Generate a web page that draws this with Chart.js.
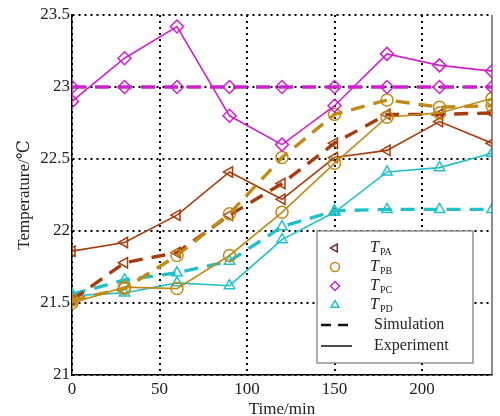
<!DOCTYPE html>
<html>
<head>
<meta charset="utf-8">
<script src="https://cdn.jsdelivr.net/npm/chart.js@4.4.0/dist/chart.umd.min.js"></script>
<style>
  html, body { margin: 0; padding: 0; background: #fff; }
  #wrap { width: 500px; height: 416px; }
</style>
</head>
<body>
<div id="wrap"><canvas id="tempChart" width="500" height="416"></canvas></div>
<script>
'use strict';

// time points (min)
const times = [0, 30, 60, 90, 120, 150, 180, 210, 240];

// simulated / measured temperatures (degC)
const paSim = [21.52, 21.78, 21.85, 22.11, 22.33, 22.61, 22.81, 22.81, 22.82];
const paExp = [21.86, 21.92, 22.11, 22.41, 22.22, 22.51, 22.56, 22.76, 22.61];
const pbSim = [21.52, 21.6, 21.83, 22.12, 22.51, 22.81, 22.91, 22.86, 22.87];
const pbExp = [21.5, 21.61, 21.6, 21.83, 22.13, 22.47, 22.79, 22.82, 22.92];
const pcSim = [23, 23, 23, 23, 23, 23, 23, 23, 23];
const pcExp = [22.9, 23.2, 23.42, 22.8, 22.6, 22.87, 23.23, 23.15, 23.11];
const pdSim = [21.56, 21.66, 21.71, 21.79, 22.03, 22.14, 22.15, 22.15, 22.15];
const pdExp = [21.55, 21.57, 21.64, 21.62, 21.94, 22.13, 22.41, 22.44, 22.54];

const xTicks = [0, 50, 100, 150, 200];
const yTicks = [21, 21.5, 22, 22.5, 23, 23.5];

const legendNames = ['PA', 'PB', 'PC', 'PD'];

const colPA = '#a63c0e';
const colPB = '#c08a18';
const colPC = '#cc22cc';
const colPD = '#22c0c6';
const serif = '"Liberation Serif", "DejaVu Serif", serif';

function pts(arr) {
    return arr.map(function(v, i) { return { x: times[i], y: v }; });
}

function series(label, arr, color, style, rot, dashed) {
    return {
        label: label,
        data: pts(arr),
        borderColor: color,
        backgroundColor: 'rgba(0,0,0,0)',
        borderWidth: dashed ? 3.4 : 1.6,
        borderDash: dashed ? [14, 9] : [],
        pointStyle: style,
        rotation: rot,
        pointRadius: style === 'rectRot' ? 6.5 : 6,
        pointBorderWidth: 1.5,
        pointBorderColor: color,
        pointBackgroundColor: 'rgba(0,0,0,0)',
        tension: 0
    };
}

// right frame line + custom legend
const framePlugin = {
    id: 'frame',
    afterDraw: function(chart) {
        const a = chart.chartArea;
        const ctx = chart.ctx;
        ctx.save();
        ctx.strokeStyle = '#666';
        ctx.lineWidth = 1.5;
        ctx.beginPath();
        ctx.moveTo(a.right, a.top);
        ctx.lineTo(a.right, a.bottom);
        ctx.stroke();

        // legend box
        const bx = 317, by = 231, bw = 156, bh = 132;
        ctx.fillStyle = '#fff';
        ctx.fillRect(bx, by, bw, bh);
        ctx.strokeStyle = '#777';
        ctx.lineWidth = 1.2;
        ctx.strokeRect(bx, by, bw, bh);

        const markerX = 335, textX = 370;
        const rows = [248, 267, 286, 305];
        const cols = ['#7a3530', colPB, colPC, colPD];
        const styles = ['triangle', 'circle', 'rectRot', 'triangle'];
        const rots = [270, 0, 0, 0];
        ctx.textBaseline = 'middle';
        ctx.textAlign = 'left';
        rows.forEach(function(y, i) {
            ctx.save();
            ctx.strokeStyle = cols[i];
            ctx.fillStyle = '#fff';
            ctx.lineWidth = 1.5;
            Chart.helpers.drawPoint(ctx, {
                pointStyle: styles[i],
                rotation: rots[i],
                radius: 4.5,
                borderWidth: 1.5
            }, markerX, y);
            ctx.restore();
            ctx.fillStyle = '#222';
            ctx.font = 'italic 16px ' + serif;
            ctx.fillText('T', textX, y);
            const tw = ctx.measureText('T').width;
            ctx.font = '10px ' + serif;
            ctx.fillText(legendNames[i], textX + tw + 1, y + 4);
        });

        ctx.fillStyle = '#222';
        ctx.font = '16px ' + serif;
        ctx.fillText('Simulation', 374, 325);
        ctx.fillText('Experiment', 374, 346);
        ctx.strokeStyle = '#111';
        ctx.lineWidth = 2.5;
        ctx.setLineDash([10, 7]);
        ctx.beginPath();
        ctx.moveTo(321, 325);
        ctx.lineTo(352, 325);
        ctx.stroke();
        ctx.setLineDash([]);
        ctx.lineWidth = 1.5;
        ctx.beginPath();
        ctx.moveTo(321, 346);
        ctx.lineTo(352, 346);
        ctx.stroke();
        ctx.restore();
    }
};

document.addEventListener('DOMContentLoaded', function() {
    const ctx = document.getElementById('tempChart').getContext('2d');

    // draw each simulation (dashed) over its experiment (solid)
    const datasets = [
        series('TPC exp', pcExp, colPC, 'rectRot', 0, false),
        series('TPC sim', pcSim, colPC, 'rectRot', 0, true),
        series('TPB exp', pbExp, colPB, 'circle', 0, false),
        series('TPB sim', pbSim, colPB, 'circle', 0, true),
        series('TPA exp', paExp, colPA, 'triangle', 270, false),
        series('TPA sim', paSim, colPA, 'triangle', 270, true),
        series('TPD exp', pdExp, colPD, 'triangle', 0, false),
        series('TPD sim', pdSim, colPD, 'triangle', 0, true)
    ];

    new Chart(ctx, {
        type: 'line',
        data: { datasets: datasets },
        options: {
            responsive: false,
            animation: false,
            layout: { padding: { top: 15, right: 2, left: 14, bottom: 0 } },
            plugins: {
                legend: { display: false },
                tooltip: { enabled: false }
            },
            scales: {
                x: {
                    type: 'linear',
                    min: 0,
                    max: 240,
                    afterBuildTicks: function(axis) {
                        axis.ticks = xTicks.map(function(v) { return { value: v }; });
                    },
                    grid: { color: '#000', lineWidth: 2, drawTicks: false },
                    border: { display: true, color: '#000', width: 1.5, dash: [2, 4] },
                    ticks: {
                        color: '#222',
                        font: { family: serif, size: 17 },
                        padding: 4,
                        callback: function(v) { return String(v); }
                    },
                    title: {
                        display: true,
                        text: 'Time/min',
                        color: '#222',
                        font: { family: serif, size: 17 },
                        padding: { top: 0, bottom: -4 }
                    },
                    afterFit: function(axis) { axis.height = 41; }
                },
                y: {
                    min: 21,
                    max: 23.5,
                    afterBuildTicks: function(axis) {
                        axis.ticks = yTicks.map(function(v) { return { value: v }; });
                    },
                    grid: { color: '#000', lineWidth: 2, drawTicks: false },
                    border: { display: true, color: '#000', width: 1.5, dash: [2, 4] },
                    ticks: {
                        color: '#222',
                        font: { family: serif, size: 17 },
                        padding: 2,
                        callback: function(v) { return String(v); }
                    },
                    title: {
                        display: true,
                        text: 'Temperature/\u2103',
                        color: '#222',
                        font: { family: serif, size: 17 },
                        padding: { top: 0, bottom: 4 }
                    },
                    afterFit: function(axis) { axis.width = 58; }
                }
            }
        },
        plugins: [framePlugin]
    });
});
</script>
</body>
</html>
